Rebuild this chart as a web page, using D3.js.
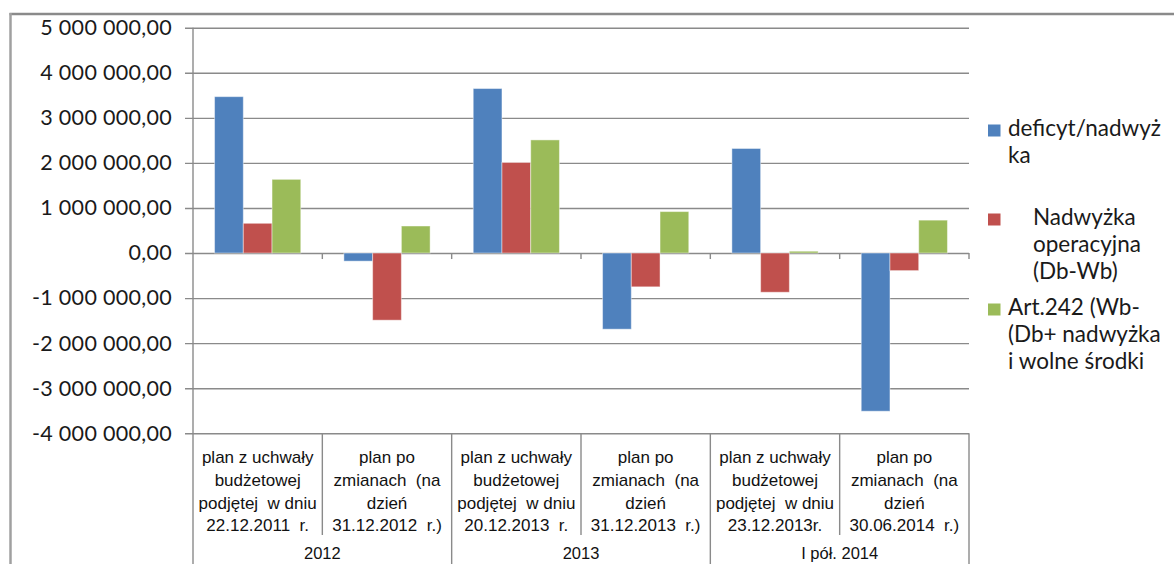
<!DOCTYPE html>
<html lang="pl">
<head>
<meta charset="utf-8">
<script src="https://cdn.jsdelivr.net/npm/d3@7"></script>
<style>
  html, body { margin: 0; padding: 0; background: #fff; }
  svg { display: block; }
</style>
</head>
<body>
<svg id="chart" width="1174" height="564"></svg>
<script>
// Category labels (wrapped as in the budget report), grouped by year
const categoryLines = [
  ["plan z uchwały", "budżetowej", "podjętej  w dniu", "22.12.2011  r."],
  ["plan po", "zmianach  (na", "dzień", "31.12.2012  r.)"],
  ["plan z uchwały", "budżetowej", "podjętej  w dniu", "20.12.2013  r."],
  ["plan po", "zmianach  (na", "dzień", "31.12.2013  r.)"],
  ["plan z uchwały", "budżetowej", "podjętej  w dniu", "23.12.2013r."],
  ["plan po", "zmianach  (na", "dzień", "30.06.2014  r.)"]
];
const groupLabels = ["2012", "2013", "I pół. 2014"];
const groupSpan = [2, 2, 2];

// Series values (PLN)
const seriesNames = ["deficyt/nadwyżka", "Nadwyżka operacyjna (Db-Wb)", "Art.242 (Wb-(Db+ nadwyżka i wolne środki"];
const legendLines = [
  ["deficyt/nadwyż", "ka"],
  ["Nadwyżka", "operacyjna", "(Db-Wb)"],
  ["Art.242 (Wb-", "(Db+ nadwyżka", "i wolne środki"]
];
const deficyt   = [3470000, -180000, 3650000, -1690000, 2320000, -3510000];
const nadwyzka  = [660000, -1490000, 2010000, -750000, -870000, -390000];
const art242    = [1635000, 600000, 2510000, 920000, 40000, 730000];
const yTicks = [5000000, 4000000, 3000000, 2000000, 1000000, 0, -1000000, -2000000, -3000000, -4000000];

const seriesValues = [deficyt, nadwyzka, art242];
const colors = ["#4F81BD", "#C0504D", "#9BBB59"];

const svg = d3.select("#chart");
const plot = { left: 193, right: 969, top: 27.7, bottom: 433.3 };
const sansNum = "Lato, 'Open Sans', sans-serif";
const sansCat = "'Liberation Sans', Arial, sans-serif";

const pl = d3.formatLocale({ decimal: ",", thousands: "\u00a0", grouping: [3], currency: ["", " zł"], minus: "-" });
const fmt = pl.format(",.2f");

const y = d3.scaleLinear().domain([-4000000, 5000000]).range([plot.bottom, plot.top]);
const x0 = d3.scaleBand().domain(d3.range(categoryLines.length)).range([plot.left, plot.right]).padding(0);
const x1 = d3.scaleBand().domain(d3.range(seriesValues.length)).range([0, x0.bandwidth()]).paddingInner(0).paddingOuter(0.75);

// Chart-area frame (top and left edges)
svg.append("line").attr("x1", 9.5).attr("x2", 1174).attr("y1", 14).attr("y2", 14)
  .attr("stroke", "#8a8a8a").attr("stroke-width", 2.5);
svg.append("line").attr("x1", 10.5).attr("x2", 10.5).attr("y1", 13).attr("y2", 564)
  .attr("stroke", "#a0a0a0").attr("stroke-width", 2.5);

// Gridlines with outside tick marks and value labels
const gy = svg.append("g").attr("transform", `translate(${plot.right},0)`);
gy.call(d3.axisLeft(y).tickValues(yTicks).tickSize(plot.right - plot.left + 8).tickFormat(fmt).tickPadding(13));
gy.select(".domain").remove();
gy.selectAll(".tick line").attr("stroke", "#8a8a8a").attr("stroke-width", 1.4);
gy.selectAll(".tick text")
  .attr("fill", "#1a1a1a")
  .style("font-family", sansNum)
  .style("font-size", "21.5px")
  .style("letter-spacing", "0.3px");

// Vertical value axis line
svg.append("line").attr("x1", plot.left).attr("x2", plot.left).attr("y1", plot.top).attr("y2", 564)
  .attr("stroke", "#8a8a8a").attr("stroke-width", 1.4);

// Bars
const bars = svg.append("g");
seriesValues.forEach((vals, s) => {
  bars.selectAll(null).data(vals).join("rect")
    .attr("x", (d, i) => x0(i) + x1(s))
    .attr("width", x1.bandwidth())
    .attr("y", d => y(Math.max(0, d)))
    .attr("height", d => Math.abs(y(d) - y(0)))
    .attr("fill", colors[s])
    .attr("stroke", "#ffffff").attr("stroke-opacity", 0.45).attr("stroke-width", 1);
});

// Small category ticks along the zero line
const boundaries = d3.range(categoryLines.length + 1).map(i => i < categoryLines.length ? x0(i) : plot.right);
svg.append("g").selectAll("line").data(boundaries.slice(1)).join("line")
  .attr("x1", d => d).attr("x2", d => d)
  .attr("y1", y(0)).attr("y2", y(0) + 6)
  .attr("stroke", "#8a8a8a").attr("stroke-width", 1.4);

// Category table under the plot
const table = svg.append("g");
boundaries.slice(1).forEach((bx, i) => {
  const idx = i + 1;
  let acc = 0, isGroupEdge = false;
  for (const g of groupSpan) { acc += g; if (acc === idx) isGroupEdge = true; }
  table.append("line").attr("x1", bx).attr("x2", bx)
    .attr("y1", plot.bottom).attr("y2", isGroupEdge ? 564 : 535)
    .attr("stroke", "#8a8a8a").attr("stroke-width", 1.4);
});

const lineBase = [463, 486, 509, 531];
categoryLines.forEach((lines, i) => {
  const t = table.append("text")
    .attr("text-anchor", "middle")
    .attr("fill", "#111")
    .style("font-family", sansCat)
    .style("font-size", "17px")
    .style("white-space", "pre");
  lines.forEach((ln, k) => {
    t.append("tspan").attr("x", x0(i) + x0.bandwidth() / 2).attr("y", lineBase[k]).text(ln);
  });
});

let start = 0;
groupLabels.forEach((g, gi) => {
  const a = x0(start);
  const endIdx = start + groupSpan[gi];
  const b = endIdx < categoryLines.length ? x0(endIdx) : plot.right;
  table.append("text")
    .attr("x", (a + b) / 2).attr("y", 559)
    .attr("text-anchor", "middle")
    .attr("fill", "#111")
    .style("font-family", sansCat)
    .style("font-size", "16.5px")
    .text(g);
  start = endIdx;
});

// Legend
const legend = svg.append("g");
const legendTop = [136, 225, 315];
const legendIndent = [0, 25, 0];
legendLines.forEach((lines, s) => {
  legend.append("rect")
    .attr("x", 988).attr("y", legendTop[s] - 11.5)
    .attr("width", 12.5).attr("height", 12)
    .attr("fill", colors[s]);
  const t = legend.append("text")
    .attr("fill", "#1a1a1a")
    .style("font-family", sansNum)
    .style("font-size", "22.5px");
  lines.forEach((ln, k) => {
    t.append("tspan").attr("x", 1008 + legendIndent[s]).attr("y", legendTop[s] + k * 27).text(ln);
  });
});
</script>
</body>
</html>
